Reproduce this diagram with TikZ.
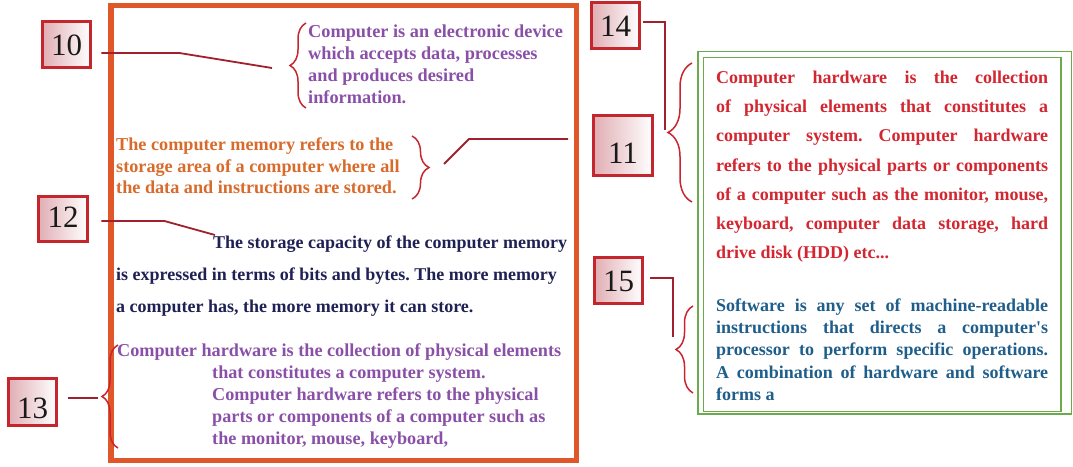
\documentclass[tikz,border=0pt]{standalone}
\usepackage{fontspec}
\setmainfont{Liberation Serif}
\usetikzlibrary{positioning,decorations.pathreplacing}

\definecolor{frameorange}{RGB}{224,88,42}
\definecolor{framegreen}{RGB}{108,171,76}
\definecolor{numred}{RGB}{196,38,46}
\definecolor{numpink}{RGB}{224,174,180}
\definecolor{leadred}{RGB}{160,32,46}
\definecolor{bracered}{RGB}{200,37,47}
\definecolor{txtpurple}{RGB}{138,80,168}
\definecolor{txtorange}{RGB}{216,107,44}
\definecolor{txtnavy}{RGB}{31,33,84}
\definecolor{txtred}{RGB}{210,38,48}
\definecolor{txtblue}{RGB}{31,94,139}

\newcommand{\jline}[1]{\makebox[332pt][s]{#1}}
\frenchspacing

\tikzset{
  numbox/.style={draw=numred, line width=2.8pt, left color=numpink, right color=white,
    inner sep=0pt, text height=21pt, text depth=0pt, text=black!90,
    font=\fontsize{31}{31}\selectfont},
  leader/.style={draw=leadred, line width=1.8pt},
  curly/.style={draw=bracered, line width=1.5pt, decorate, decoration={brace, amplitude=#1}},
  blocktext/.style={anchor=north west, inner sep=0pt, align=left},
}

\begin{document}
\begin{tikzpicture}[x=1pt,y=-1pt]
        \useasboundingbox (0,0) rectangle (1073,466);

        % Frames
        \draw[frameorange, line width=5.5pt] (111,5.5) rectangle (576.5,460.5);
        \draw[framegreen, line width=1.8pt] (698,51.5) rectangle (1071.5,414);
        \draw[framegreen, line width=1.8pt] (703.5,57.5) rectangle (1061,411.5);

        % Number boxes
        \node[numbox, minimum width=48.2pt, minimum height=46.2pt] (n10) at (66.5,44.5) {10};
        \node[numbox, minimum width=59.2pt, minimum height=60.2pt, text height=35pt] (n11) at (623,145.5) {11};
        \node[numbox, minimum width=49.2pt, minimum height=45.2pt, text depth=5pt] (n12) at (63,219) {12};
        \node[numbox, minimum width=48.2pt, minimum height=47.2pt, text height=32pt] (n13) at (32.5,402) {13};
        \node[numbox, minimum width=48.2pt, minimum height=46.2pt] (n14) at (615.5,25.5) {14};
        \node[numbox, minimum width=48.2pt, minimum height=46.2pt] (n15) at (618.5,280.5) {15};

        % Text in the orange frame
        \node[blocktext, text=txtpurple, font=\bfseries\fontsize{18.3}{22}\selectfont] (t10) at (308,24.5)
          {Computer is an electronic device\\ which accepts data, processes\\ and produces desired\\ information.};
        \node[blocktext, text=txtorange, font=\bfseries\fontsize{18.2}{21.5}\selectfont] (t11) at (116,137.5)
          {The computer memory refers to the\\ storage area of a computer where all\\ the data and instructions are stored.};
        \node[blocktext, text=txtnavy, font=\bfseries\fontsize{18}{32}\selectfont] (t12) at (116,235.5)
          {\hspace*{97pt}The storage capacity of the computer memory\\ is expressed in terms of bits and bytes. The more memory\\ a computer has, the more memory it can store.};
        \node[blocktext, text=txtpurple, font=\bfseries\fontsize{18.2}{22}\selectfont] (t13) at (117,343.5)
          {Computer hardware is the collection of physical elements\\ \hspace*{95pt}that constitutes a computer system.\\ \hspace*{95pt}Computer hardware refers to the physical\\ \hspace*{95pt}parts or components of a computer such as\\ \hspace*{95pt}the monitor, mouse, keyboard,};

        % Text in the green frame
        \node[blocktext, text=txtred, font=\bfseries\fontsize{18}{29.3}\selectfont] (t14) at (716,70.5)
          {\jline{Computer hardware is the collection}\\ \jline{of physical elements that constitutes a}\\
           \jline{computer system. Computer hardware}\\ \jline{refers to the physical parts or components}\\
           \jline{of a computer such as the monitor, mouse,}\\ \jline{keyboard, computer data storage, hard}\\
           drive disk (HDD) etc...};
        \node[blocktext, text=txtblue, font=\bfseries\fontsize{18}{22.3}\selectfont] (t15) at (716,298.5)
          {\jline{Software is any set of machine-readable}\\ \jline{instructions that directs a computer\textquotesingle s}\\
           \jline{processor to perform specific operations.}\\ \jline{A combination of hardware and software}\\
           forms a};

        % Braces
        \draw[curly=16] (306,108) -- (306,23);
        \draw[curly=17] (412,136) -- (412,199);
        \draw[curly=24] (692,202) -- (692,63);
        \draw[curly=16] (118,448) -- (118,345);
        \draw[curly=17] (693,393) -- (693,306);

        % Leader ends
        \coordinate (e10) at (272,68);
        \coordinate (e11) at (568,139);
        \coordinate (e12) at (215,235);
        \coordinate (e13) at (98,398);
        \coordinate (e14) at (665,130);
        \coordinate (e15) at (673,337);
        \coordinate (s11) at (444,164);

        % Leaders
        \draw[leader] (n10.east) ++(9.4,8.5) -- ++(78,0) -- (e10);
        \draw[leader] (s11) -- ++(25,-25) -- (e11);
        \draw[leader] (n12.east) ++(12.4,2) -- ++(63,0) -- (e12);
        \draw[leader] (n13.east) ++(10.4,-4) -- (e13);
        \draw[leader] (n14.east) ++(2.4,-3.5) -| (e14);
        \draw[leader] (n15.east) ++(6.4,-2.5) -| (e15);
\end{tikzpicture}
\end{document}
